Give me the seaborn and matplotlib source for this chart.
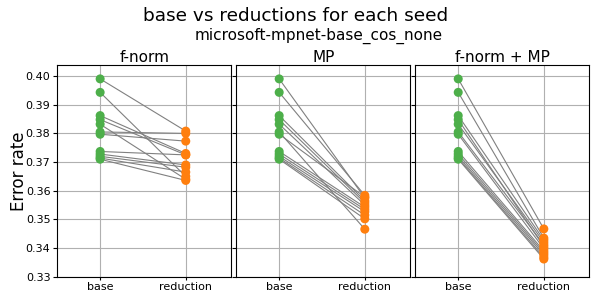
import pandas as pd
import numpy as np
import matplotlib.pyplot as plt
import seaborn as sns

seeds = list(range(12))
base = [0.3990, 0.3943, 0.3862, 0.3848, 0.3832, 0.3805, 0.3797, 0.3737, 0.3728, 0.3720, 0.3714, 0.3710]
red_fnorm = [0.3808, 0.3650, 0.3730, 0.3725, 0.3640, 0.3800, 0.3773, 0.3725, 0.3690, 0.3682, 0.3665, 0.3636]
red_mp = [0.3575, 0.3584, 0.3565, 0.3558, 0.3550, 0.3466, 0.3578, 0.3543, 0.3535, 0.3527, 0.3515, 0.3502]
red_both = [0.3467, 0.3435, 0.3428, 0.3405, 0.3420, 0.3412, 0.3398, 0.3390, 0.3383, 0.3376, 0.3368, 0.3362]

panels = ["f-norm", "MP", "f-norm + MP"]
reductions = [red_fnorm, red_mp, red_both]
cats = ["base", "reduction"]

sns.set_style("ticks")
plt.rcParams['font.family'] = ['DejaVu Sans']
for k in ["text.color", "axes.labelcolor", "xtick.color", "ytick.color"]:
    plt.rcParams[k] = "black"

fig, axes = plt.subplots(1, 3, figsize=(5.91, 2.92), dpi=100, sharey=True)
fig.subplots_adjust(left=0.097, right=0.997, top=0.777, bottom=0.052, wspace=0.03)

for ax, name, red in zip(axes, panels, reductions):
    df = pd.DataFrame({
        "seed": seeds + seeds,
        "x": [0] * len(seeds) + [1] * len(seeds),
        "kind": ["base"] * len(seeds) + ["reduction"] * len(seeds),
        "err": base + red,
    })
    sns.lineplot(data=df, x="x", y="err", units="seed", estimator=None,
                 color="grey", linewidth=0.8, ax=ax, zorder=2)
    sns.scatterplot(data=df, x="x", y="err", hue="kind",
                    palette={"base": "#4daf4a", "reduction": "#ff7f0e"},
                    s=42, edgecolor="none", ax=ax, legend=False, zorder=3)
    ax.set_xticks([0, 1])
    ax.set_xticklabels(cats, fontsize=8)
    ax.set_xlim(-0.5, 1.53)
    ax.set_ylim(0.33, 0.4038)
    ax.set_yticks(np.arange(0.33, 0.401, 0.01))
    ax.grid(True, color="#b0b0b0", linewidth=0.8)
    ax.set_axisbelow(True)
    ax.set_xlabel("")
    ax.set_ylabel("")
    ax.set_title(name, fontsize=11, pad=2)
    ax.tick_params(axis="y", labelsize=8, length=3, pad=2)
    ax.tick_params(axis="x", length=2.5, pad=1)
    for sp in ax.spines.values():
        sp.set_visible(True)
        sp.set_color("black")

axes[0].set_ylabel("Error rate", fontsize=12)
axes[0].yaxis.set_label_coords(-0.17, 0.5)
fig.suptitle("base vs reductions for each seed", fontsize=13.3, y=0.975)
fig.text(0.54, 0.862, "microsoft-mpnet-base_cos_none", ha="center", fontsize=11)

fig.savefig("out.png", dpi=100)
